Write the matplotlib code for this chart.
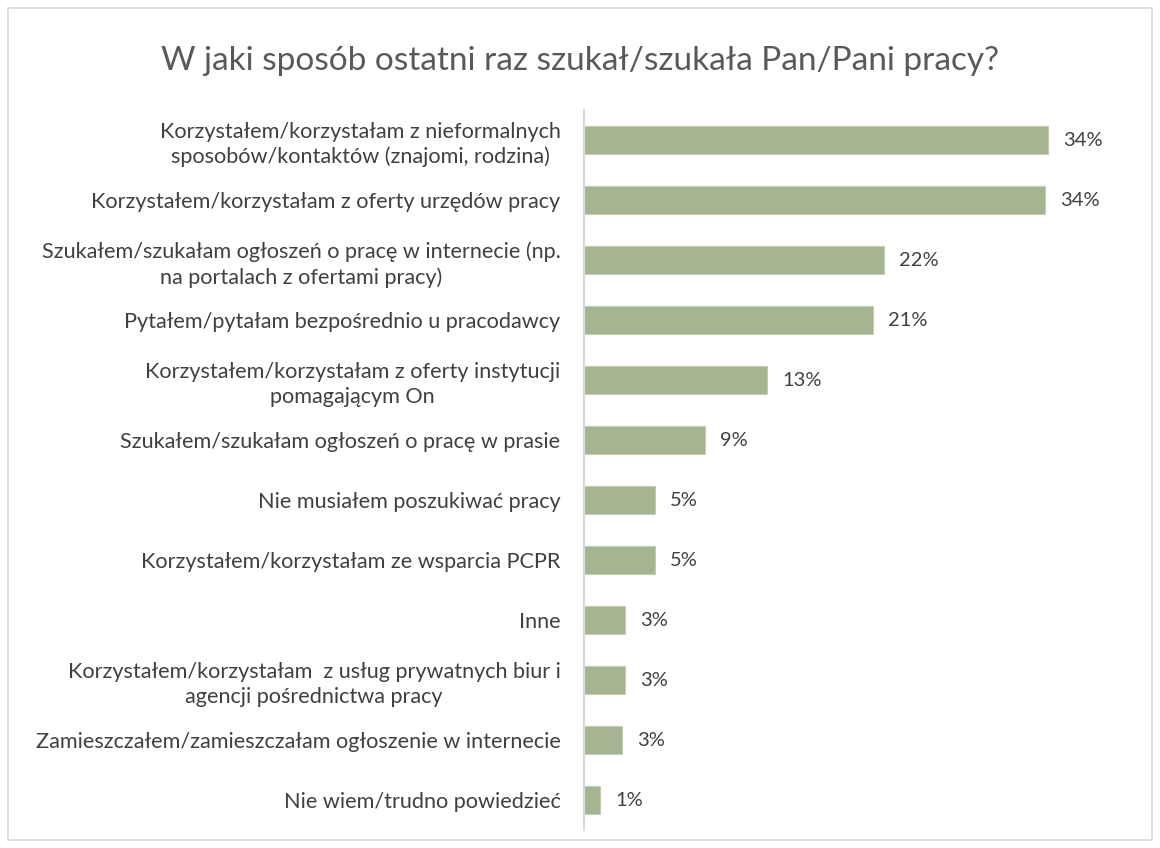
import matplotlib
matplotlib.use("Agg")
import matplotlib.pyplot as plt
from matplotlib.patches import Rectangle

categories = [
    "Korzystałem/korzystałam z nieformalnych\nsposobów/kontaktów (znajomi, rodzina)",
    "Korzystałem/korzystałam z oferty urzędów pracy",
    "Szukałem/szukałam ogłoszeń o pracę w internecie (np.\nna portalach z ofertami pracy)",
    "Pytałem/pytałam bezpośrednio u pracodawcy",
    "Korzystałem/korzystałam z oferty instytucji\npomagającym On",
    "Szukałem/szukałam ogłoszeń o pracę w prasie",
    "Nie musiałem poszukiwać pracy",
    "Korzystałem/korzystałam ze wsparcia PCPR",
    "Inne",
    "Korzystałem/korzystałam  z usług prywatnych biur i\nagencji pośrednictwa pracy",
    "Zamieszczałem/zamieszczałam ogłoszenie w internecie",
    "Nie wiem/trudno powiedzieć",
]
values = [34.0, 33.8, 22.0, 21.2, 13.4, 8.9, 5.2, 5.2, 3.0, 3.0, 2.8, 1.2]
value_labels = ["34%", "34%", "22%", "21%", "13%", "9%", "5%", "5%", "3%", "3%", "3%", "1%"]
title = "W jaki sposób ostatni raz szukał/szukała Pan/Pani pracy?"

plt.rcParams['font.family'] = ['Lato', 'DejaVu Sans']

W, H = 1160, 848
fig = plt.figure(figsize=(W / 100, H / 100), dpi=100)

# outer border
fig.patches.append(Rectangle((8 / W, 8 / H), (W - 16) / W, (H - 16) / H,
                             transform=fig.transFigure, fill=False,
                             edgecolor="#D9D9D9", linewidth=1.2))

ax_left, ax_right = 584, 1134
ax_top, ax_bottom = 110, 830
ax = fig.add_axes([ax_left / W, 1 - ax_bottom / H, (ax_right - ax_left) / W,
                   (ax_bottom - ax_top) / H])

y = list(range(len(categories)))
ax.barh(y, values, height=0.47, color="#A5B592", edgecolor="#C3CEB5", linewidth=0.8)
ax.set_ylim(len(categories) - 0.5, -0.5)
ax.set_xlim(0, 40.3)

for yi, v, lab in zip(y, values, value_labels):
    ax.text(v + 1.1, yi, lab, va="center", ha="left", fontsize=14.5, color="#404040")

ax.set_yticks(y)
ax.set_yticklabels(categories, fontsize=15.6, color="#404040",
                   multialignment="center", linespacing=1.3)
ax.tick_params(axis="y", length=0, pad=17)
ax.set_xticks([])
for s in ["top", "right", "bottom"]:
    ax.spines[s].set_visible(False)
ax.spines["left"].set_color("#D9D9D9")
ax.spines["left"].set_linewidth(1.5)

fig.text(0.5, 1 - 61 / H, title, ha="center", va="center", fontsize=24, color="#595959")

fig.savefig("out.png", dpi=100)
